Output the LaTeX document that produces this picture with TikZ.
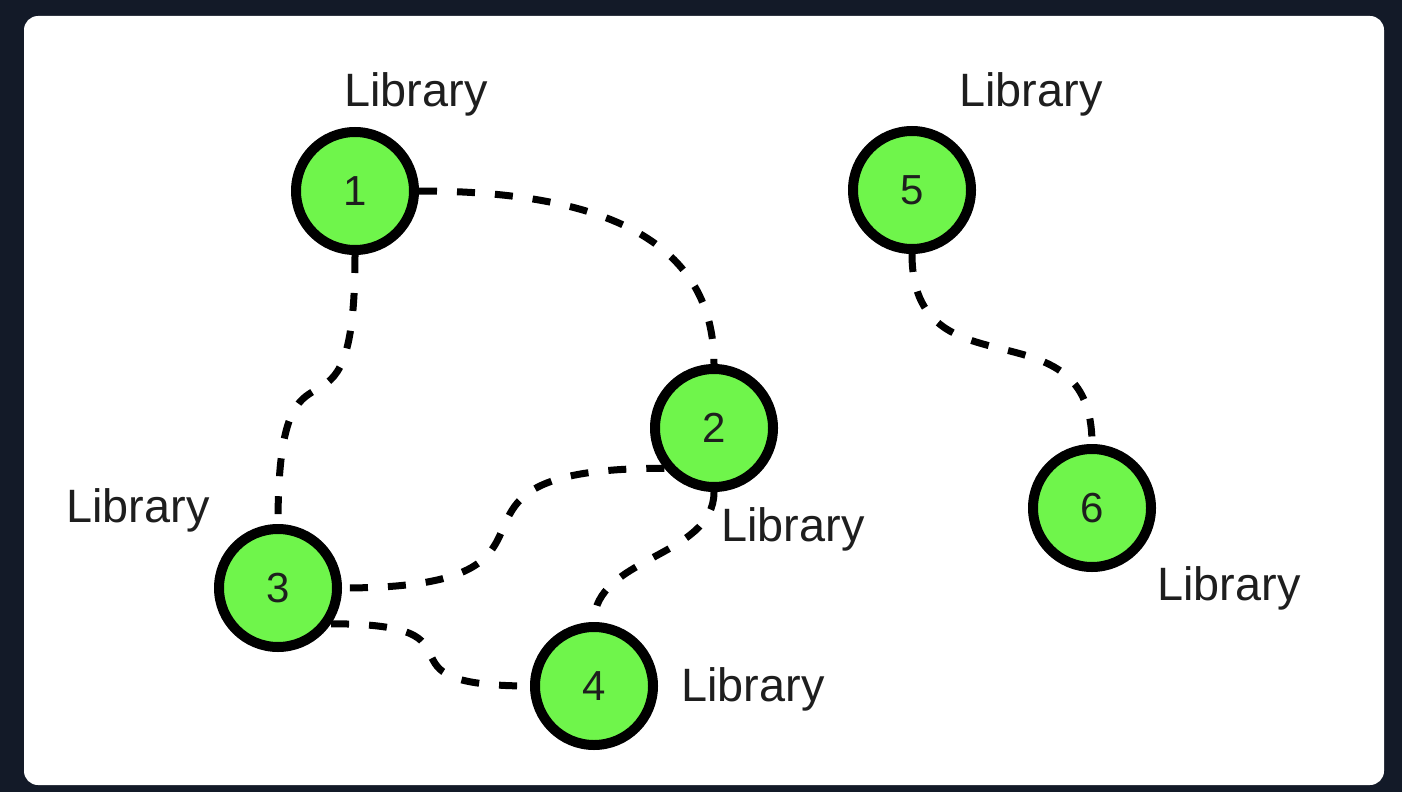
\documentclass[tikz,border=0pt]{standalone}
\usepackage{fontspec}
\setmainfont{Liberation Sans}
\definecolor{bgdark}{HTML}{131A28}
\definecolor{nodegreen}{HTML}{6FF54B}
\definecolor{labelgray}{HTML}{1E1E1E}
\begin{document}
\begin{tikzpicture}[x=0.5pt,y=-0.5pt,
  libnode/.style={circle,draw=black,line width=5pt,fill=nodegreen,minimum size=59pt,inner sep=0pt,
    font=\fontsize{21}{25}\selectfont,text=labelgray},
  liblabel/.style={anchor=base,font=\fontsize{23.4}{28}\selectfont,text=labelgray,inner sep=0pt},
  link/.style={draw=black,line width=3.5pt,dash pattern=on 9pt off 10pt}]
\fill[bgdark] (0,0) rectangle (1402,792);
\useasboundingbox (0,0) rectangle (1402,792);
\fill[white,rounded corners=7pt] (24,16) rectangle (1384,785);

\node[libnode] (n1) at (355,191) {1};
\node[libnode] (n2) at (714,428) {2};
\node[libnode] (n3) at (278,588) {3};
\node[libnode] (n4) at (594,686) {4};
\node[libnode] (n5) at (912,190) {5};
\node[libnode] (n6) at (1092,508) {6};

\node[liblabel] (l1) at (416,106) {Library};
\node[liblabel] (l5) at (1031,106) {Library};
\node[liblabel] (l3) at (138,522) {Library};
\node[liblabel] (l2) at (793,541) {Library};
\node[liblabel] (l6) at (1229,600) {Library};
\node[liblabel] (l4) at (753,701) {Library};

\path[link] (n1.east) .. controls +(190,0) and +(0,-120) .. (n2.north);
\path[link] (n1.south) .. controls +(0,225) and +(0,-225) .. (n3.north);
\path[link] (n2.219) .. controls +(-270,0) and +(270,0) .. (n3.east);
\path[link] (n2.south) .. controls +(0,65) and +(0,-65) .. (n4.north);
\path[link] (n3.-34) .. controls +(170,0) and +(-170,0) .. (n4.west);
\path[link] (n5.south) .. controls +(0,145) and +(0,-145) .. (n6.north);
\end{tikzpicture}
\end{document}
